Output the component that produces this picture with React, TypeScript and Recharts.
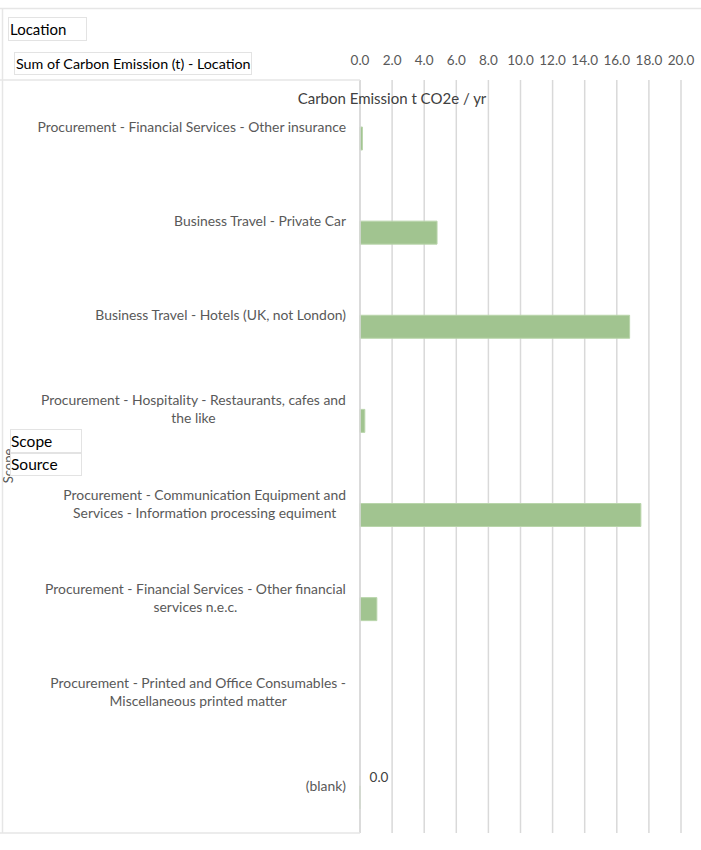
import React from 'react'
import { BarChart, Bar, XAxis, YAxis, CartesianGrid, LabelList } from 'recharts'

// pivot rows (Scope / Source)
const categories = [
  'Procurement - Financial Services - Other insurance',
  'Business Travel - Private Car',
  'Business Travel - Hotels (UK, not London)',
  'Procurement - Hospitality - Restaurants, cafes and\nthe like',
  'Procurement - Communication Equipment and\nServices - Information processing equiment',
  'Procurement - Financial Services - Other financial\nservices n.e.c.',
  'Procurement - Printed and Office Consumables -\nMiscellaneous printed matter',
  '(blank)',
]

// Sum of Carbon Emission (t) - Location
const locationValues = [0.15, 4.8, 16.8, 0.3, 17.5, 1.05, null, 0]
// empty companion series that takes the first slot of each row
const emptyValues = [null, null, null, null, null, null, null, null]

const xTicks = [0, 2, 4, 6, 8, 10, 12, 14, 16, 18, 20]

const data = categories.map((source, i) => ({
  source,
  empty: emptyValues[i],
  location: locationValues[i],
}))

const FONT = 'Lato, "Open Sans", sans-serif'
const GRID = '#d9d9d9'
const BAR = '#a1c490'

let ctx: CanvasRenderingContext2D | null = null
const measure = (text: string, font: string) => {
  if (!ctx) ctx = document.createElement('canvas').getContext('2d')
  if (!ctx) return text.length * 6
  ctx.font = font
  return ctx.measureText(text).width
}

const CategoryTick = ({ x, y, payload }: any) => {
  const lines = String(payload.value).split('\n')
  const size = 13.9
  const widths = lines.map((l) => measure(l, `${size}px ${FONT}`))
  const maxW = Math.max(...widths)
  const right = x - 6
  const lineH = 18
  const startY = y - ((lines.length - 1) * lineH) / 2
  return (
    <g>
      {lines.map((l, i) => (
        <text
          key={i}
          x={lines.length > 1 ? right - maxW / 2 : right}
          y={startY + i * lineH}
          dy={5}
          textAnchor={lines.length > 1 ? 'middle' : 'end'}
          fill="#595959"
          fontSize={size}
          fontFamily={FONT}
        >
          {l}
        </text>
      ))}
    </g>
  )
}

const ValueTick = ({ x, y, payload }: any) => (
  <text x={x} y={y} dy={-7} textAnchor="middle" fill="#595959" fontSize={13.5} fontFamily={FONT}>
    {Number(payload.value).toFixed(1)}
  </text>
)

// only the zero row carries a data label
const renderZeroLabel = (props: any) => {
  const { value } = props
  if (value === null || value === undefined || Number(value) !== 0) return null
  const vb = props.viewBox || {}
  const x = props.x ?? vb.x
  const y = props.y ?? vb.y
  return (
    <text x={x + 19} y={y - 4} textAnchor="middle" fill="#404040" fontSize={13.5} fontFamily={FONT}>
      {Number(value).toFixed(1)}
    </text>
  )
}

const box = (left: number, top: number, width: number, height: number): React.CSSProperties => ({
  position: 'absolute',
  left,
  top,
  width,
  height,
  boxSizing: 'border-box',
  border: '1px solid #e3e3e3',
  background: '#fff',
  fontFamily: FONT,
  color: '#000',
  lineHeight: `${height - 2}px`,
  paddingLeft: 1,
  whiteSpace: 'nowrap',
})

export default function App() {
  return (
    <div style={{ position: 'absolute', left: 0, top: 0, width: 701, height: 850, background: '#fff' }}>
      <BarChart
        layout="vertical"
        width={701}
        height={850}
        data={data}
        margin={{ top: 50, right: 20, bottom: 17, left: 0 }}
        barSize={23}
        barGap={0}
      >
        <CartesianGrid horizontal={false} stroke={GRID} strokeWidth={1.5} />
        <XAxis
          type="number"
          orientation="top"
          domain={[0, 20]}
          ticks={xTicks}
          height={30}
          axisLine={false}
          tickLine={false}
          tick={<ValueTick />}
          interval={0}
        />
        <YAxis
          type="category"
          dataKey="source"
          width={360}
          axisLine={{ stroke: GRID, strokeWidth: 1.5 }}
          tickLine={false}
          tick={<CategoryTick />}
          interval={0}
        />
        <Bar dataKey="empty" fill={BAR} isAnimationActive={false} />
        <Bar
          dataKey="location"
          fill={BAR}
          stroke="#b9d5ab"
          strokeWidth={1}
          minPointSize={(value: any) => (value === 0 ? 0.01 : 0)}
          isAnimationActive={false}
        >
          <LabelList dataKey="location" content={renderZeroLabel} />
        </Bar>
      </BarChart>

      {/* pivot frame */}
      <svg width={701} height={850} style={{ position: 'absolute', left: 0, top: 0, pointerEvents: 'none' }}>
        <line x1={0} y1={8.5} x2={701} y2={8.5} stroke="#e6e6e6" strokeWidth={1.5} />
        <line x1={2.5} y1={8} x2={2.5} y2={833} stroke="#e6e6e6" strokeWidth={1.5} />
        <line x1={0} y1={80} x2={360} y2={80} stroke="#e6e6e6" strokeWidth={1.5} />
        <line x1={0} y1={833} x2={360} y2={833} stroke="#e6e6e6" strokeWidth={1.5} />
        <text x={392} y={104} textAnchor="middle" fill="#404040" fontSize={15} fontFamily={FONT}>
          Carbon Emission t CO2e / yr
        </text>
        <text
          x={13}
          y={466}
          transform="rotate(-90 13 466)"
          textAnchor="middle"
          fill="#595959"
          fontSize={13}
          fontFamily={FONT}
        >
          Scope
        </text>
      </svg>

      <div style={{ ...box(8, 17, 79, 24), fontSize: 15 }}>Location</div>
      <div style={{ ...box(14, 52, 238, 23), fontSize: 14.3 }}>Sum of Carbon Emission (t) - Location</div>
      <div style={{ ...box(10, 429, 72, 24), fontSize: 15.5, paddingLeft: 0 }}>Scope</div>
      <div style={{ ...box(10, 453, 72, 23), fontSize: 15.5, paddingLeft: 0 }}>Source</div>
    </div>
  )
}
